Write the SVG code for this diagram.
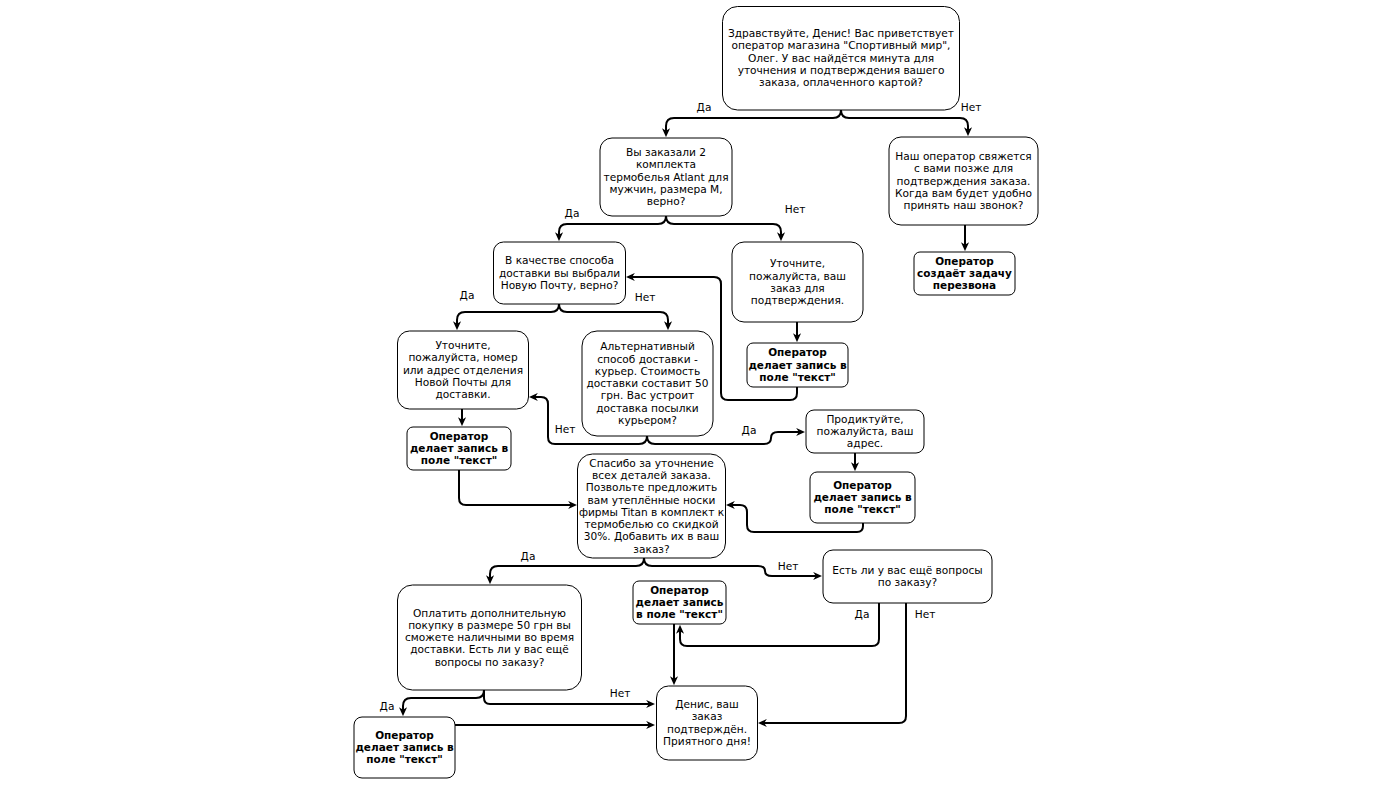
<svg xmlns="http://www.w3.org/2000/svg" width="1383" height="791" viewBox="0 0 1383 791">
<defs>
<marker id="arr" viewBox="0 0 10 10" refX="6.5" refY="5" markerWidth="9" markerHeight="9" markerUnits="userSpaceOnUse" orient="auto">
<path d="M0,0.5 L10,5 L0,9.5 L3,5 Z" fill="#000"/>
</marker>
<style>
.n rect{fill:#fff;stroke:#000;stroke-width:1}
.n text{font-family:"DejaVu Sans","Liberation Sans",sans-serif;font-size:10.6px;text-anchor:middle;fill:#000}
.b text{font-weight:bold;font-size:10.5px}
.e path{fill:none;stroke:#000;stroke-width:2}
.e path.a{marker-end:url(#arr)}
.lbl{font-family:"DejaVu Sans","Liberation Sans",sans-serif;font-size:10.6px;text-anchor:middle;fill:#000}
</style>
</defs>
<rect width="1383" height="791" fill="#fff"/>
<g id="connectors" class="e">
<path class="a" d="M841,110 Q841,118 833,118 L674,118 Q666,118 666,126 L666,134"/>
<path class="a" d="M841,110 Q841,118 849,118 L960,118 Q968,118 968,126 L968,133"/>
<path class="a" d="M666,216 Q666,224 658,224 L567,224 Q559,224 559,232 L559,238"/>
<path class="a" d="M666,216 Q666,224 674,224 L773,224 Q781,224 781,232 L781,238"/>
<path class="a" d="M965,225 L965,248"/>
<path class="a" d="M797,322 L797,339"/>
<path class="a" d="M797,387 L797,393 Q797,400 790,400 L728,400 Q721,400 721,393 L721,284 Q721,277 714,277 L629,277"/>
<path class="a" d="M559,304 Q559,312 551,312 L465,312 Q457,312 457,320 L457,327"/>
<path class="a" d="M559,304 Q559,312 567,312 L660,312 Q668,312 668,320 L668,327"/>
<path class="a" d="M462,409 L462,423"/>
<path class="a" d="M647,436 Q647,444 639,444 L555,444 Q548,444 548,437 L548,404 Q548,397 541,397 L532,397"/>
<path class="a" d="M647,436 Q647,444 655,444 L764,444 Q771,444 771,438 Q771,432 778,432 L802,432"/>
<path class="a" d="M855,453 L855,468"/>
<path class="a" d="M863,523 L863,526 Q863,532 857,532 L754,532 Q747,532 747,525 L747,512 Q747,505 740,505 L729,505"/>
<path class="a" d="M459,470 L459,498 Q459,505 466,505 L574,505"/>
<path class="a" d="M644,558 Q644,566 636,566 L498,566 Q490,566 490,574 L490,581"/>
<path class="a" d="M644,558 Q644,566 652,566 L758,566 Q765,566 765,571 Q765,576 772,576 L819,576"/>
<path class="a" d="M879,603 L879,639 Q879,646 872,646 L687,646 Q680,646 680,639 L680,628"/>
<path class="a" d="M674,624 L674,682"/>
<path class="a" d="M906,603 L906,716 Q906,723 899,723 L761,723"/>
<path class="a" d="M484,690 Q484,698 476,698 L411,698 Q403,698 403,706 L403,713"/>
<path class="a" d="M484,690 L484,698 Q484,704 490,704 L652,704"/>
<path class="a" d="M455,725 L652,725"/>
</g>
<g id="edge-labels">
<text class="lbl" x="704" y="111">Да</text>
<text class="lbl" x="971" y="111">Нет</text>
<text class="lbl" x="572" y="217">Да</text>
<text class="lbl" x="795" y="213">Нет</text>
<text class="lbl" x="467" y="299">Да</text>
<text class="lbl" x="645" y="301">Нет</text>
<text class="lbl" x="565" y="433">Нет</text>
<text class="lbl" x="749" y="434">Да</text>
<text class="lbl" x="528" y="560">Да</text>
<text class="lbl" x="788" y="570">Нет</text>
<text class="lbl" x="862" y="618">Да</text>
<text class="lbl" x="925" y="618">Нет</text>
<text class="lbl" x="620" y="697">Нет</text>
<text class="lbl" x="387" y="710">Да</text>
</g>
<g id="nodeA" class="n">
<rect x="722.5" y="6.5" width="237" height="103.5" rx="15"/>
<text x="841" y="37">Здравствуйте, Денис! Вас приветствует</text>
<text x="841" y="49.3">оператор магазина "Спортивный мир",</text>
<text x="841" y="61.6">Олег. У вас найдётся минута для</text>
<text x="841" y="73.9">уточнения и подтверждения вашего</text>
<text x="841" y="86.2">заказа, оплаченного картой?</text>
</g>
<g id="nodeB" class="n">
<rect x="600" y="138" width="132" height="78" rx="12"/>
<text x="666" y="156">Вы заказали 2</text>
<text x="666" y="168.3">комплекта</text>
<text x="666" y="180.6">термобелья Atlant для</text>
<text x="666" y="192.9">мужчин, размера M,</text>
<text x="666" y="205.2">верно?</text>
</g>
<g id="nodeC" class="n">
<rect x="889" y="137" width="149" height="88" rx="12"/>
<text x="963.5" y="160">Наш оператор свяжется</text>
<text x="963.5" y="172.3">с вами позже для</text>
<text x="963.5" y="184.6">подтверждения заказа.</text>
<text x="963.5" y="196.9">Когда вам будет удобно</text>
<text x="963.5" y="209.2">принять наш звонок?</text>
</g>
<g id="nodeR" class="n b">
<rect x="914" y="252" width="101" height="43" rx="6"/>
<text x="964.5" y="264.8">Оператор</text>
<text x="964.5" y="277.1">создаёт задачу</text>
<text x="964.5" y="289.4">перезвона</text>
</g>
<g id="nodeD" class="n">
<rect x="493.5" y="242" width="132" height="62" rx="10"/>
<text x="559.5" y="264.3">В качестве способа</text>
<text x="559.5" y="276.6">доставки вы выбрали</text>
<text x="559.5" y="288.9">Новую Почту, верно?</text>
</g>
<g id="nodeE" class="n">
<rect x="732" y="242" width="131" height="80" rx="12"/>
<text x="797.5" y="267.2">Уточните,</text>
<text x="797.5" y="279.5">пожалуйста, ваш</text>
<text x="797.5" y="291.8">заказ для</text>
<text x="797.5" y="304.1">подтверждения.</text>
</g>
<g id="nodeF" class="n b">
<rect x="747" y="343" width="101" height="44" rx="6"/>
<text x="797.5" y="356.3">Оператор</text>
<text x="797.5" y="368.6">делает запись в</text>
<text x="797.5" y="380.9">поле "текст"</text>
</g>
<g id="nodeG" class="n">
<rect x="397.5" y="331" width="131" height="78" rx="12"/>
<text x="463" y="349">Уточните,</text>
<text x="463" y="361.3">пожалуйста, номер</text>
<text x="463" y="373.6">или адрес отделения</text>
<text x="463" y="385.9">Новой Почты для</text>
<text x="463" y="398.2">доставки.</text>
</g>
<g id="nodeH" class="n">
<rect x="582" y="331" width="131" height="105" rx="15"/>
<text x="647.5" y="350.2">Альтернативный</text>
<text x="647.5" y="362.5">способ доставки -</text>
<text x="647.5" y="374.8">курьер. Стоимость</text>
<text x="647.5" y="387.1">доставки составит 50</text>
<text x="647.5" y="399.4">грн. Вас устроит</text>
<text x="647.5" y="411.7">доставка посылки</text>
<text x="647.5" y="424">курьером?</text>
</g>
<g id="nodeI" class="n b">
<rect x="407" y="427" width="104" height="43" rx="6"/>
<text x="459" y="439.8">Оператор</text>
<text x="459" y="452.1">делает запись в</text>
<text x="459" y="464.4">поле "текст"</text>
</g>
<g id="nodeJ" class="n">
<rect x="806" y="410" width="118" height="43" rx="8"/>
<text x="865" y="422.8">Продиктуйте,</text>
<text x="865" y="435.1">пожалуйста, ваш</text>
<text x="865" y="447.4">адрес.</text>
</g>
<g id="nodeK" class="n b">
<rect x="810" y="472" width="105" height="51" rx="7"/>
<text x="862.5" y="488.8">Оператор</text>
<text x="862.5" y="501.1">делает запись в</text>
<text x="862.5" y="513.4">поле "текст"</text>
</g>
<g id="nodeL" class="n">
<rect x="577.5" y="454" width="148" height="104" rx="15"/>
<text x="651.5" y="466.6">Спасибо за уточнение</text>
<text x="651.5" y="478.9">всех деталей заказа.</text>
<text x="651.5" y="491.2">Позвольте предложить</text>
<text x="651.5" y="503.5">вам утеплённые носки</text>
<text x="651.5" y="515.8">фирмы Titan в комплект к</text>
<text x="651.5" y="528.1">термобелью со скидкой</text>
<text x="651.5" y="540.4">30%. Добавить их в ваш</text>
<text x="651.5" y="552.7">заказ?</text>
</g>
<g id="nodeM" class="n">
<rect x="397.5" y="585" width="184" height="105" rx="15"/>
<text x="489.5" y="616.5">Оплатить дополнительную</text>
<text x="489.5" y="628.8">покупку в размере 50 грн вы</text>
<text x="489.5" y="641.1">сможете наличными во время</text>
<text x="489.5" y="653.4">доставки. Есть ли у вас ещё</text>
<text x="489.5" y="665.7">вопросы по заказу?</text>
</g>
<g id="nodeN" class="n b">
<rect x="633" y="581" width="93" height="43" rx="6"/>
<text x="679.5" y="593.8">Оператор</text>
<text x="679.5" y="606.1">делает запись</text>
<text x="679.5" y="618.4">в поле "текст"</text>
</g>
<g id="nodeO" class="n">
<rect x="823" y="550" width="169" height="53" rx="10"/>
<text x="907.5" y="574">Есть ли у вас ещё вопросы</text>
<text x="907.5" y="586.3">по заказу?</text>
</g>
<g id="nodeP" class="n">
<rect x="656.5" y="686" width="101" height="74" rx="12"/>
<text x="707" y="708.1">Денис, ваш</text>
<text x="707" y="720.4">заказ</text>
<text x="707" y="732.7">подтверждён.</text>
<text x="707" y="745">Приятного дня!</text>
</g>
<g id="nodeQ" class="n b">
<rect x="354" y="717" width="101" height="61" rx="8"/>
<text x="404.5" y="738.8">Оператор</text>
<text x="404.5" y="751.1">делает запись в</text>
<text x="404.5" y="763.4">поле "текст"</text>
</g>
</svg>
